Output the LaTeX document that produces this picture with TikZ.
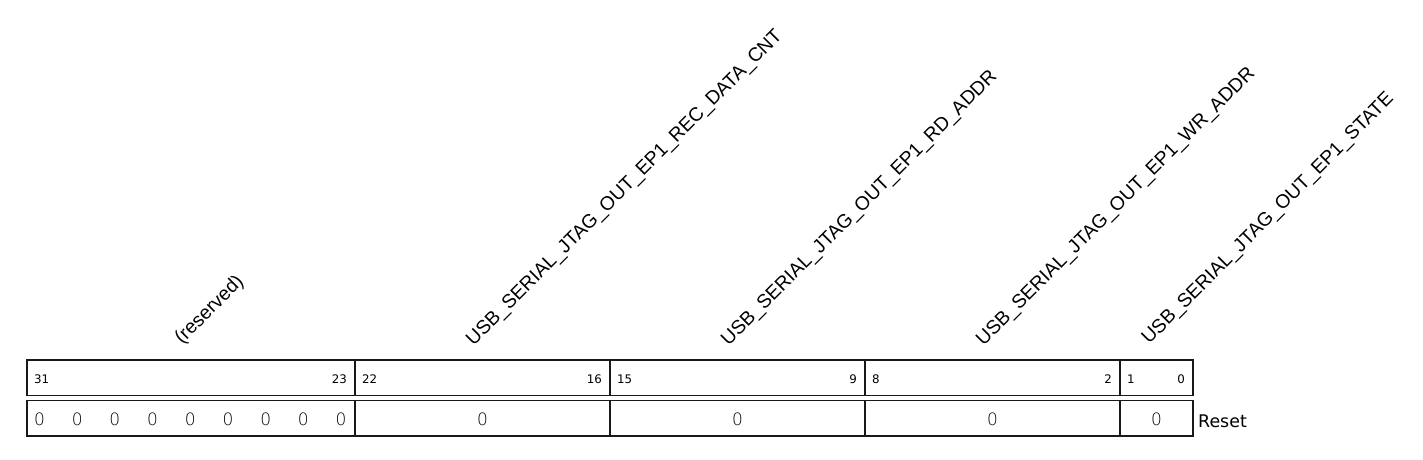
\documentclass[tikz,border=0pt]{standalone}
\usepackage{fontspec}
\setmainfont{Liberation Sans}
\newfontfamily\numfont{DejaVu Sans}
\IfFontExistsTF{DejaVu Sans ExtraLight}{\newfontfamily\zerofont{DejaVu Sans ExtraLight}}{\newfontfamily\zerofont{DejaVu Sans}}
\begin{document}
\begin{tikzpicture}[x=1pt,y=-1pt,
  fieldlbl/.style={rotate=45,anchor=base west,inner sep=0pt,font=\fontsize{19.3}{21}\selectfont},
  bitnum/.style={inner sep=0pt,font=\numfont\fontsize{11.8}{13}\selectfont},
  resetval/.style={inner sep=0pt,font=\zerofont\fontsize{17}{19}\selectfont,text=black},
  resetlbl/.style={inner sep=0pt,anchor=west,font=\numfont\fontsize{17.4}{19}\selectfont},
  frame/.style={line width=1.1pt,draw=black!90}]
\useasboundingbox (0,0) rectangle (1423,459);
% frames
\draw[frame] (27,360) rectangle (1193,395.5);
\draw[frame] (27,400.5) rectangle (1193,436);
\foreach \xx in {355,610,865,1120}{
  \draw[frame] (\xx,360) -- (\xx,395.5);
  \draw[frame] (\xx,400.5) -- (\xx,436);
}
% field labels
\node[fieldlbl] (f0) at (182,345) {(reserved)};
\node[fieldlbl] (f1) at (473.5,346.5) {USB\_SERIAL\_JTAG\_OUT\_EP1\_REC\_DATA\_CNT};
\node[fieldlbl] (f2) at (728.5,346.5) {USB\_SERIAL\_JTAG\_OUT\_EP1\_RD\_ADDR};
\node[fieldlbl] (f3) at (983.5,346.5) {USB\_SERIAL\_JTAG\_OUT\_EP1\_WR\_ADDR};
\node[fieldlbl] (f4) at (1149,345) {USB\_SERIAL\_JTAG\_OUT\_EP1\_STATE};
% bit numbers
\node[bitnum,anchor=west] (b31) at (34,379) {31};
\node[bitnum,anchor=east] (b23) at (347,379) {23};
\node[bitnum,anchor=west] (b22) at (362,379) {22};
\node[bitnum,anchor=east] (b16) at (602,379) {16};
\node[bitnum,anchor=west] (b15) at (617,379) {15};
\node[bitnum,anchor=east] (b9) at (857,379) {9};
\node[bitnum,anchor=west] (b8) at (872,379) {8};
\node[bitnum,anchor=east] (b2) at (1112,379) {2};
\node[bitnum,anchor=west] (b1) at (1127,379) {1};
\node[bitnum,anchor=east] (b0) at (1185,379) {0};
% reset values
\foreach \i in {0,...,8}{
  \node[resetval] (r\i) at ({39.5+37.7*\i},419) {0};
}
\node[resetval] (rf1) at (482.5,419) {0};
\node[resetval] (rf2) at (737.5,419) {0};
\node[resetval] (rf3) at (992.5,419) {0};
\node[resetval] (rf4) at (1156.5,419) {0};
\node[resetlbl] (rst) at (1198,421) {Reset};
\end{tikzpicture}
\end{document}
